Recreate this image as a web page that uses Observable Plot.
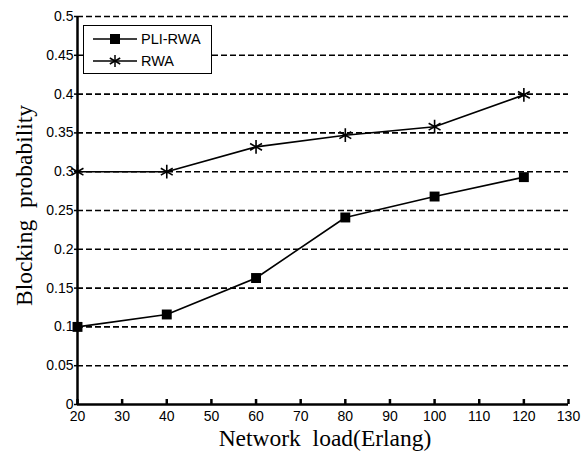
<!DOCTYPE html>
<html>
<head>
<meta charset="utf-8">
<script src="https://cdn.jsdelivr.net/npm/d3@7"></script>
<script src="https://cdn.jsdelivr.net/npm/@observablehq/plot@0.6"></script>
<style>
  html, body { margin: 0; padding: 0; background: #fff; }
  #wrap { position: relative; width: 587px; height: 454px; }
  #legend { position: absolute; left: 83px; top: 25px; width: 127px; height: 47px;
            border: 1px solid #000; background: #fff; font-family: "Liberation Sans", Arial, sans-serif;
            font-size: 14.5px; }
  #legend .row { position: absolute; left: 0; height: 20px; display: flex; align-items: center; }
  #legend svg { margin-left: 9px; }
  #legend span { margin-left: 4px; }
</style>
</head>
<body>
<div id="wrap"></div>
<script>
const loads = [20, 40, 60, 80, 100, 120];
const pliRwa = [0.100, 0.116, 0.163, 0.241, 0.268, 0.293];
const rwa = [0.300, 0.300, 0.332, 0.347, 0.358, 0.399];
const seriesNames = ["PLI-RWA", "RWA"];
const xTicks = [20, 30, 40, 50, 60, 70, 80, 90, 100, 110, 120, 130];
const yTicks = [0, 0.05, 0.1, 0.15, 0.2, 0.25, 0.3, 0.35, 0.4, 0.45, 0.5];
const xLabel = "Network\u00a0 load(Erlang)";
const yLabel = "Blocking\u00a0 probability";

const rows = [];
loads.forEach((x, i) => rows.push({x, y: pliRwa[i], s: seriesNames[0]}));
loads.forEach((x, i) => rows.push({x, y: rwa[i], s: seriesNames[1]}));
const sq = rows.filter(d => d.s === seriesNames[0]);
const st = rows.filter(d => d.s === seriesNames[1]);

const sans = "Liberation Sans, Arial, sans-serif";
const serif = "Liberation Serif, Times New Roman, serif";

const chart = Plot.plot({
  width: 587,
  height: 454,
  marginLeft: 77,
  marginRight: 19,
  marginTop: 16,
  marginBottom: 50,
  x: {domain: [20, 130]},
  y: {domain: [0, 0.5]},
  style: {background: "#fff", color: "#000"},
  marks: [
    Plot.ruleY(yTicks.filter(d => d > 0), {x1: 20, x2: 130, stroke: "#000", strokeWidth: 1.6, strokeDasharray: "6,3"}),
    Plot.axisX({ticks: xTicks, tickSize: -5, tickPadding: 12, tickFormat: d => String(d), label: null, strokeWidth: 2.5,
                fontSize: 14, fontFamily: sans}),
    Plot.axisY({ticks: yTicks, tickSize: 3, tickPadding: 1, tickFormat: d => String(d), label: null, strokeWidth: 1.5,
                fontSize: 14, fontFamily: sans}),
    Plot.ruleX([20], {stroke: "#000", strokeWidth: 2.5}),
    Plot.ruleY([0], {stroke: "#000", strokeWidth: 2.5}),
    Plot.line(rows, {x: "x", y: "y", z: "s", stroke: "#000", strokeWidth: 1.6}),
    Plot.dot(sq, {x: "x", y: "y", symbol: "square", r: 5.6, fill: "#000", stroke: "none"}),
    Plot.dot(st, {x: "x", y: "y", symbol: "asterisk", r: 6.5, stroke: "#000", strokeWidth: 1.6}),
    Plot.text([xLabel], {frameAnchor: "bottom", textAnchor: "middle", dy: 41, dx: 2, fill: "#000",
                         fontSize: 23.5, fontFamily: serif}),
    Plot.text([yLabel], {frameAnchor: "left", textAnchor: "middle", dx: -53, dy: -5, rotate: -90, fill: "#000",
                         fontSize: 23.5, fontFamily: serif})
  ]
});
const wrap = document.getElementById("wrap");
wrap.appendChild(chart);

// legend
const leg = document.createElement("div");
leg.id = "legend";
const markers = [
  '<rect x="17" y="5" width="10" height="10" fill="#000"/>',
  '<g stroke="#000" stroke-width="1.5"><line x1="22" y1="4" x2="22" y2="16"/><line x1="16.8" y1="7" x2="27.2" y2="13"/><line x1="16.8" y1="13" x2="27.2" y2="7"/></g>'
];
seriesNames.forEach((name, i) => {
  const row = document.createElement("div");
  row.className = "row";
  row.style.top = (3 + i * 22) + "px";
  row.innerHTML = `<svg width="44" height="20"><line x1="0" y1="10" x2="44" y2="10" stroke="#000" stroke-width="1.6"/>${markers[i]}</svg><span>${name}</span>`;
  leg.appendChild(row);
});
wrap.appendChild(leg);
</script>
</body>
</html>
